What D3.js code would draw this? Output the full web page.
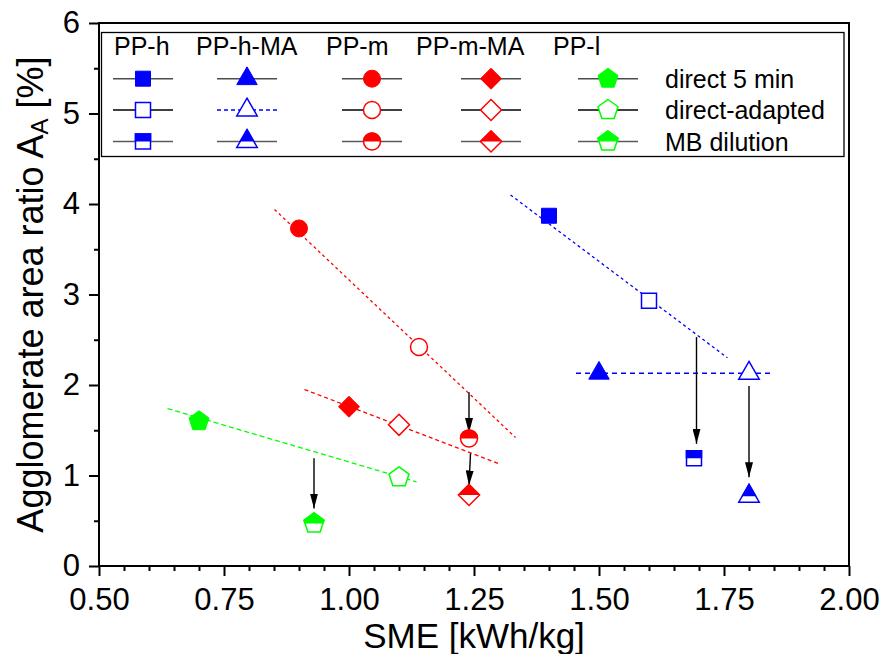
<!DOCTYPE html>
<html>
<head>
<meta charset="utf-8">
<script src="https://cdn.jsdelivr.net/npm/d3@7"></script>
<style>
  body { margin: 0; background: #fff; }
  svg { display: block; }
  text { font-family: "Liberation Sans", Arial, sans-serif; fill: #000; }
</style>
</head>
<body>
<svg id="chart" width="885" height="654"></svg>
<script>
// ---- data ----
const seriesNames  = ["PP-h", "PP-h-MA", "PP-m", "PP-m-MA", "PP-l"];
const seriesColors = ["#0000ff", "#0000ff", "#ff0000", "#ff0000", "#00ff00"];
const seriesShapes = ["square", "triangle", "circle", "diamond", "pentagon"];
const conditions   = ["direct 5 min", "direct-adapted", "MB dilution"];
const conditionFill = ["filled", "open", "half"];

// SME [kWh/kg] per series, one value per condition
const smeValues = [
  [1.40, 1.60, 1.69],
  [1.50, 1.80, 1.80],
  [0.90, 1.14, 1.24],
  [1.00, 1.10, 1.24],
  [0.70, 1.10, 0.93]
];
// agglomerate area ratio A_A [%] per series, one value per condition
const areaRatio = [
  [3.87, 2.93, 1.19],
  [2.13, 2.13, 0.77],
  [3.73, 2.42, 1.41],
  [1.76, 1.56, 0.785],
  [1.60, 0.98, 0.47]
];

// trend lines (start / end) per series
const trendX = [[1.323, 1.757], [1.454, 1.845], [0.851, 1.333], [0.911, 1.303], [0.637, 1.135]];
const trendY = [[4.10, 2.30],   [2.13, 2.13],   [3.94, 1.42],   [1.95, 1.124],  [1.74, 0.93]];

// arrows from the trend to the MB dilution value
const arrowX0 = [1.695, 1.80, 1.24, 1.243, 0.93];
const arrowY0 = [2.53, 1.99, 1.92, 1.243, 1.19];
const arrowX1 = [1.695, 1.80, 1.24, 1.240, 0.93];
const arrowY1 = [1.35, 0.98, 1.47, 0.89, 0.635];

const xTicks = [0.50, 0.75, 1.00, 1.25, 1.50, 1.75, 2.00];
const yTicks = [0, 1, 2, 3, 4, 5, 6];

// ---- layout ----
const svg = d3.select("#chart");
const plot = { left: 99, right: 849, top: 23, bottom: 566 };
const x = d3.scaleLinear().domain([0.5, 2.0]).range([plot.left, plot.right]);
const y = d3.scaleLinear().domain([0, 6]).range([plot.bottom, plot.top]);

const defs = svg.append("defs");
defs.append("clipPath").attr("id", "upperHalf")
  .append("rect").attr("x", -20).attr("y", -20).attr("width", 40).attr("height", 20);
defs.append("marker").attr("id", "arrowHead")
  .attr("viewBox", "0 0 15 8").attr("refX", 15).attr("refY", 4)
  .attr("markerUnits", "userSpaceOnUse")
  .attr("markerWidth", 15).attr("markerHeight", 8).attr("orient", "auto")
  .append("path").attr("d", "M0,0 L15,4 L0,8 Z").attr("fill", "#000");

// ---- marker shapes centred on (0,0) ----
function shapePath(shape) {
  const p = d3.path();
  if (shape === "square") {
    p.rect(-7.5, -7.5, 15, 15);
  } else if (shape === "circle") {
    p.arc(0, 0, 8.5, 0, 2 * Math.PI);
  } else if (shape === "triangle") {
    const s = 20.5, h = s * Math.sqrt(3) / 2;
    p.moveTo(0, -2 * h / 3); p.lineTo(s / 2, h / 3); p.lineTo(-s / 2, h / 3); p.closePath();
  } else if (shape === "diamond") {
    const r = 10.5;
    p.moveTo(0, -r); p.lineTo(r, 0); p.lineTo(0, r); p.lineTo(-r, 0); p.closePath();
  } else if (shape === "pentagon") {
    const R = 10.5;
    for (let i = 0; i < 5; i++) {
      const a = -Math.PI / 2 + i * 2 * Math.PI / 5;
      const px = R * Math.cos(a), py = R * Math.sin(a);
      if (i === 0) p.moveTo(px, py); else p.lineTo(px, py);
    }
    p.closePath();
  }
  return p.toString();
}

function drawMarker(g, shape, color, style) {
  const d = shapePath(shape);
  if (style === "filled") {
    g.append("path").attr("d", d).attr("fill", color).attr("stroke", color).attr("stroke-width", 1);
  } else if (style === "open") {
    g.append("path").attr("d", d).attr("fill", "#fff").attr("stroke", color).attr("stroke-width", 1.5);
  } else {
    g.append("path").attr("d", d).attr("fill", "#fff").attr("stroke", color).attr("stroke-width", 1.5);
    g.append("path").attr("d", d).attr("fill", color).attr("stroke", color).attr("stroke-width", 1.5)
      .attr("clip-path", "url(#upperHalf)");
  }
}

// ---- axes ----
const fmt2 = d3.format(".2f");
const minorX = d3.range(0.5, 2.0001, 0.05).filter(v => Math.abs(v * 4 - Math.round(v * 4)) > 1e-6);
const minorY = d3.range(0.5, 6, 1);

svg.append("g").attr("transform", `translate(0,${plot.bottom})`)
  .call(d3.axisBottom(x).tickValues(xTicks).tickFormat(fmt2).tickSize(10).tickPadding(12).tickSizeOuter(0));
svg.append("g").attr("transform", `translate(0,${plot.bottom})`)
  .call(d3.axisBottom(x).tickValues(minorX).tickFormat("").tickSize(5).tickSizeOuter(0));
svg.append("g").attr("transform", `translate(${plot.left},0)`)
  .call(d3.axisLeft(y).tickValues(yTicks).tickFormat(d3.format("d")).tickSize(10).tickPadding(9).tickSizeOuter(0));
svg.append("g").attr("transform", `translate(${plot.left},0)`)
  .call(d3.axisLeft(y).tickValues(minorY).tickFormat("").tickSize(5).tickSizeOuter(0));

svg.selectAll(".domain").remove();
svg.selectAll(".tick line").attr("stroke", "#000").attr("stroke-width", 2);
svg.selectAll(".tick text").attr("font-size", 31).attr("font-family", '"Liberation Sans", Arial, sans-serif').attr("fill", "#000");

// frame
svg.append("rect")
  .attr("x", plot.left).attr("y", plot.top)
  .attr("width", plot.right - plot.left).attr("height", plot.bottom - plot.top)
  .attr("fill", "none").attr("stroke", "#000").attr("stroke-width", 2);

// axis titles
svg.append("text")
  .attr("x", (plot.left + plot.right) / 2).attr("y", 648)
  .attr("text-anchor", "middle").attr("font-size", 35)
  .text("SME [kWh/kg]");

const yTitle = svg.append("text")
  .attr("transform", `translate(43,${(plot.top + plot.bottom) / 2}) rotate(-90)`)
  .attr("text-anchor", "middle").attr("font-size", 36);
yTitle.append("tspan").text("Agglomerate area ratio A");
yTitle.append("tspan").attr("font-size", 24).attr("dy", 5).text("A");
yTitle.append("tspan").attr("dy", -5).text(" [%]");

// ---- trend lines ----
const trendDash = ["3,3", "5,4", "3,3", "4,3", "5,3"];
const lineGen = d3.line().x(d => x(d[0])).y(d => y(d[1]));
seriesNames.forEach((name, i) => {
  svg.append("path")
    .attr("d", lineGen([[trendX[i][0], trendY[i][0]], [trendX[i][1], trendY[i][1]]]))
    .attr("fill", "none").attr("stroke", seriesColors[i])
    .attr("stroke-width", 1.3).attr("stroke-dasharray", trendDash[i]);
});

// ---- arrows ----
arrowX0.forEach((v, i) => {
  svg.append("line")
    .attr("x1", x(arrowX0[i])).attr("y1", y(arrowY0[i]))
    .attr("x2", x(arrowX1[i])).attr("y2", y(arrowY1[i]))
    .attr("stroke", "#000").attr("stroke-width", 1.4)
    .attr("marker-end", "url(#arrowHead)");
});

// ---- data markers ----
seriesNames.forEach((name, i) => {
  conditions.forEach((c, j) => {
    const g = svg.append("g")
      .attr("transform", `translate(${x(smeValues[i][j])},${y(areaRatio[i][j])})`);
    drawMarker(g, seriesShapes[i], seriesColors[i], conditionFill[j]);
  });
});

// ---- legend ----
const legend = svg.append("g");
legend.append("rect")
  .attr("x", 101.5).attr("y", 32.5).attr("width", 742.5).attr("height", 124)
  .attr("fill", "#fff").attr("stroke", "#000").attr("stroke-width", 1.3);

const headerX = [114, 196, 326, 416, 553];
const sampleX = [143, 247, 372, 491, 608];
const rowY = [78.7, 110, 141.5];
const rowLineColor = ["#4d4d4d", "#000", "#5a5a5a"];

seriesNames.forEach((name, i) => {
  legend.append("text").attr("x", headerX[i]).attr("y", 55)
    .attr("font-size", 25).text(name);
  conditions.forEach((c, j) => {
    const dashed = (i === 1 && j === 1);
    legend.append("line")
      .attr("x1", sampleX[i] - 30).attr("x2", sampleX[i] + 30)
      .attr("y1", rowY[j]).attr("y2", rowY[j])
      .attr("stroke", dashed ? seriesColors[i] : rowLineColor[j])
      .attr("stroke-width", 1.5)
      .attr("stroke-dasharray", dashed ? "4,3" : null);
    const g = legend.append("g").attr("transform", `translate(${sampleX[i]},${rowY[j]})`);
    drawMarker(g, seriesShapes[i], seriesColors[i], conditionFill[j]);
  });
});
conditions.forEach((c, j) => {
  legend.append("text").attr("x", 665).attr("y", rowY[j] + 9)
    .attr("font-size", 25).text(c);
});
</script>
</body>
</html>
